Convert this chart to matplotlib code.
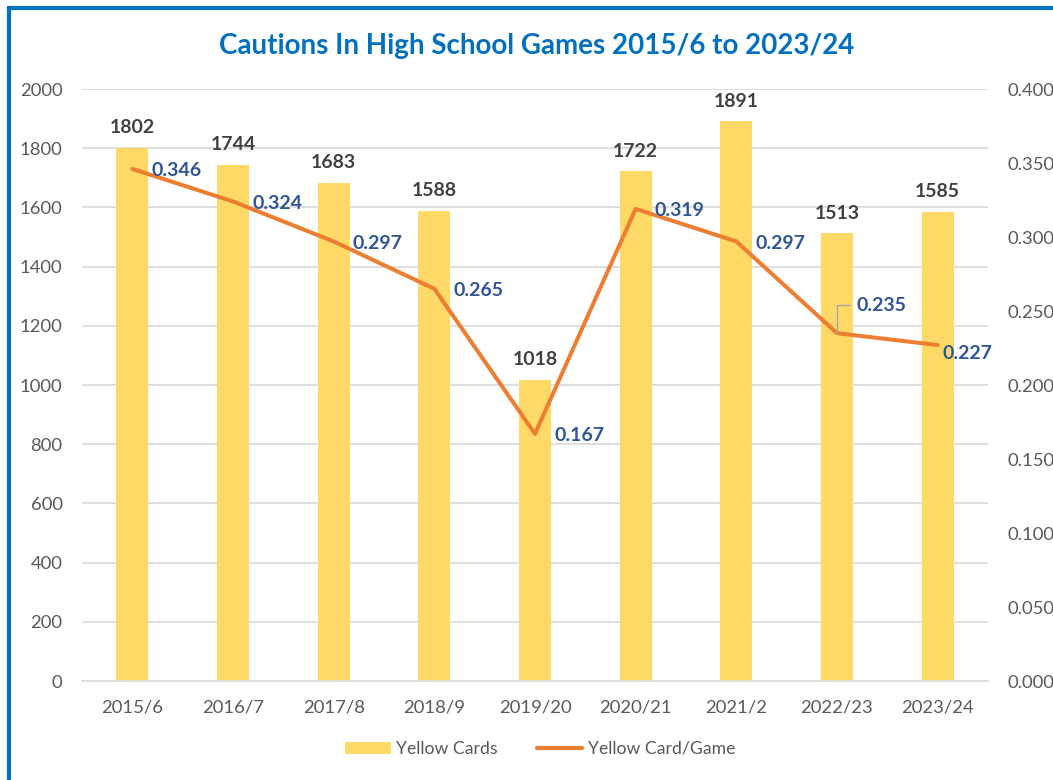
import matplotlib
matplotlib.use("Agg")
import matplotlib.pyplot as plt
from matplotlib.patches import Rectangle, Patch
from matplotlib.lines import Line2D

plt.rcParams['font.family'] = ['Lato', 'DejaVu Sans']

seasons = ["2015/6", "2016/7", "2017/8", "2018/9", "2019/20",
           "2020/21", "2021/2", "2022/23", "2023/24"]
yellow_cards = [1802, 1744, 1683, 1588, 1018, 1722, 1891, 1513, 1585]
cards_per_game = [0.346, 0.324, 0.297, 0.265, 0.167, 0.319, 0.297, 0.235, 0.227]

bar_color = "#FFD966"
line_color = "#ED7D31"
tick_color = "#595959"
grid_color = "#D9D9D9"

fig = plt.figure(figsize=(10.53, 7.80), dpi=100)
ax = fig.add_axes([82 / 1053, 1 - 681 / 780, 906 / 1053, 592 / 780])
ax2 = ax.twinx()

x = list(range(len(seasons)))
ax.bar(x, yellow_cards, width=0.32, color=bar_color, zorder=2)
ax.set_xlim(-0.5, len(seasons) - 0.5)
ax.set_ylim(0, 2000)
ax.set_yticks(range(0, 2001, 200))
ax.set_xticks(x)
ax.set_xticklabels(seasons)
ax.grid(axis='y', color=grid_color, lw=1.2, zorder=0)
ax.set_axisbelow(True)

ax2.plot(x, cards_per_game, color=line_color, lw=2.9, solid_capstyle='round', zorder=3)
ax2.set_ylim(0, 0.4)
ax2.set_yticks([i * 0.05 for i in range(9)])
ax2.set_yticklabels([f"{i * 0.05:.3f}" for i in range(9)])

for a in (ax, ax2):
    for s in a.spines.values():
        s.set_visible(False)
    a.tick_params(length=0, labelsize=13.3, colors=tick_color)
ax.spines['bottom'].set_visible(True)
ax.spines['bottom'].set_color(grid_color)
ax.spines['bottom'].set_linewidth(1.2)
ax.tick_params(axis='y', pad=14)
ax.tick_params(axis='x', pad=13)
ax2.tick_params(axis='y', pad=14)

# bar labels
for xi, v in zip(x, yellow_cards):
    ax.annotate(str(v), (xi, v), xytext=(0, 20), textcoords='offset pixels',
                ha='center', va='center', fontsize=14, fontweight='bold',
                color='#404040')

# line labels
offsets = [(19, -2)] * 7 + [(19, 28), (5, -8)]
for i, (xi, v) in enumerate(zip(x, cards_per_game)):
    dx, dy = offsets[i]
    if i == 7:
        ax2.annotate(f"{v:.3f}", (xi, v), xytext=(dx, dy), textcoords='offset pixels',
                     ha='left', va='center', fontsize=14, fontweight='bold',
                     color='#2F5597',
                     arrowprops=dict(arrowstyle='-', color='#A6A6A6', lw=1,
                                     shrinkA=2, shrinkB=0,
                                     connectionstyle='angle,angleA=0,angleB=90,rad=0'))
    else:
        ax2.annotate(f"{v:.3f}", (xi, v), xytext=(dx, dy), textcoords='offset pixels',
                     ha='left', va='center', fontsize=14, fontweight='bold',
                     color='#2F5597')

fig.text(537 / 1053, 1 - 46 / 780, "Cautions In High School Games 2015/6 to 2023/24",
         ha='center', va='center', fontsize=20, fontweight='bold', color='#0070C0')

handles = [Patch(facecolor=bar_color, edgecolor='none', label='Yellow Cards'),
           Line2D([0], [0], color=line_color, lw=3, solid_capstyle='round',
                  label='Yellow Card/Game')]
fig.legend(handles=handles, loc='center', bbox_to_anchor=(540 / 1053, 1 - 749 / 780),
           ncol=2, frameon=False, fontsize=12.7, labelcolor=tick_color,
           handlelength=2.6, columnspacing=2.2, handletextpad=0.3)

fig.patches.append(Rectangle((9 / 1053, -0.1), 1.2, 1 - 8 / 780 + 0.1,
                             transform=fig.transFigure, fill=False,
                             edgecolor='#0070C0', lw=3, clip_on=False))

fig.savefig("out.png", dpi=100, facecolor='white')
